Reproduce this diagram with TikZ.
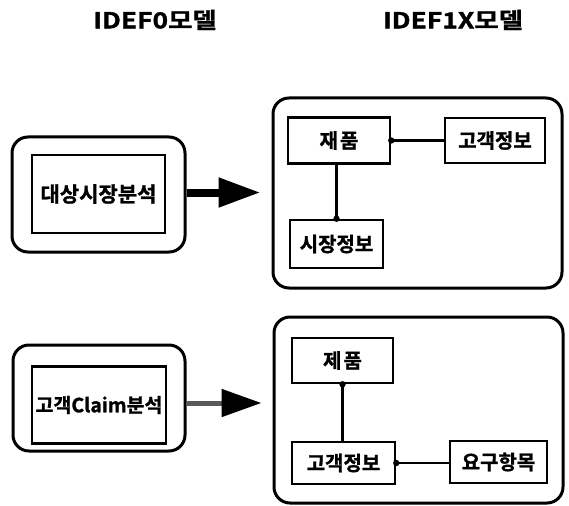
\documentclass[tikz,border=0pt]{standalone}
\usepackage{fontspec}
\setmainfont{Noto Sans CJK KR}[BoldFont={* Bold},BoldFeatures={FakeBold=1.2}]
\newfontfamily\titlefont{Noto Sans CJK KR}[FakeStretch=1.2,BoldFont={* Bold},BoldFeatures={FakeBold=1.5}]
\usetikzlibrary{arrows.meta}
\begin{document}
\begin{tikzpicture}[x=1pt,y=-1pt,
  outer/.style={draw,line width=3pt,rounded corners=16pt,inner sep=0pt},
  act/.style={draw,line width=2.6pt,inner sep=0pt,font=\fontsize{21}{21}\selectfont\bfseries},
  ent/.style={draw,line width=2.5pt,inner sep=0pt,font=\fontsize{20}{20}\selectfont\bfseries},
  ttl/.style={font=\titlefont\fontsize{22}{22}\selectfont\bfseries},
  conn/.style={line width=2.8pt},
  bigarrow/.style={line width=8pt,-{Triangle[length=42pt,width=28pt]},shorten >=11pt},
  greyarrow/.style={line width=5pt,draw=black!65,-{Triangle[length=40pt,width=27pt,color=black,fill=black]},shorten >=11pt}
]
\useasboundingbox (0,0) rectangle (569,505);
% titles
\node[ttl] (t0) at (155,20) {IDEF0모델};
\node[ttl] (t1) at (453,20) {IDEF1X모델};
% top row
\node[outer,minimum width=173pt,minimum height=115pt] (L1) at (98.5,194.5) {};
\node[act,minimum width=133pt,minimum height=78pt] (A1) at (98.5,194) {대상시장분석};
\node[outer,minimum width=289pt,minimum height=190pt] (R1) at (417.5,193) {};
\node[ent,minimum width=102pt,minimum height=46pt] (E1) at (339,140.5) {재\hspace{2pt}품};
\node[ent,minimum width=100pt,minimum height=45pt] (E2) at (495,140.5) {고객정보};
\node[ent,minimum width=93pt,minimum height=48pt] (E3) at (336.5,244) {시장정보};
\draw[bigarrow] ([yshift=2pt]L1.east) -- ([yshift=2pt]L1.east -| R1.west);
\draw[conn] (E1.east) -- (E2.west);
\draw[conn] (E3.north |- E1.south) -- (E3.north);
\fill (E1.east) circle (3.2pt);
\fill (E3.north) circle (3.2pt);
% bottom row
\node[outer,minimum width=172pt,minimum height=106pt] (L2) at (99,398) {};
\node[act,minimum width=134pt,minimum height=77pt,font=\fontsize{19.5}{19.5}\selectfont\bfseries] (A2) at (99,405) {고객Claim분석};
\node[outer,minimum width=289pt,minimum height=186pt] (R2) at (418.5,410) {};
\node[ent,minimum width=101pt,minimum height=45pt] (F1) at (342.5,360.5) {제\hspace{2pt}품};
\node[ent,minimum width=103pt,minimum height=42pt] (F2) at (343.5,463) {고객정보};
\node[ent,minimum width=97pt,minimum height=42pt] (F3) at (498.5,462) {요구항목};
\draw[greyarrow] ([yshift=-5pt]L2.east) -- ([yshift=-5pt]L2.east -| R2.west);
\draw[conn] (F1.south) -- (F1.south |- F2.north);
\draw[conn] (F2.east) -- (F2.east -| F3.west);
\fill (F1.south) circle (3.2pt);
\fill (F2.east) circle (3.2pt);
\end{tikzpicture}
\end{document}
